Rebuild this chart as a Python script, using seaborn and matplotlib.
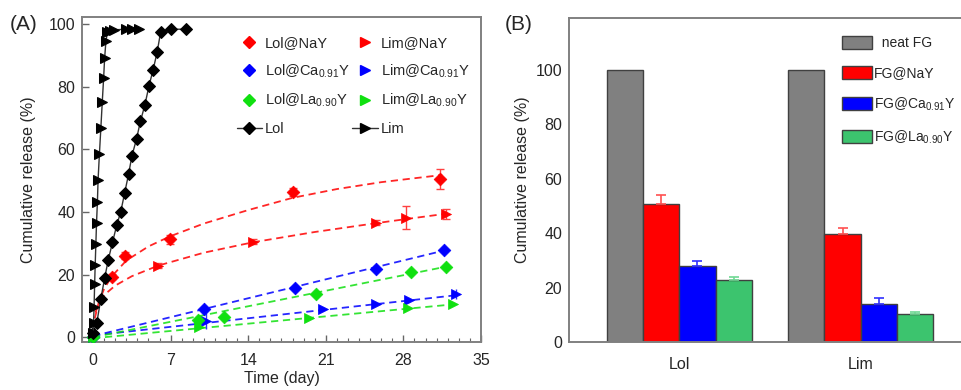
import numpy as np
import pandas as pd
import matplotlib
matplotlib.use("Agg")
import matplotlib.pyplot as plt
from matplotlib.lines import Line2D
from matplotlib.patches import Patch
from matplotlib.ticker import MultipleLocator
import seaborn as sns

sns.set_theme(style="white")
plt.rcParams['font.family'] = ['Liberation Sans', 'DejaVu Sans']
plt.rcParams['mathtext.fontset'] = 'custom'
plt.rcParams['mathtext.rm'] = 'Liberation Sans'
plt.rcParams['mathtext.it'] = 'Liberation Sans:italic'

# ---------------- Panel A data ----------------
lol_t = [0.0, 0.33, 0.7, 1.05, 1.37, 1.75, 2.13, 2.5, 2.85, 3.2, 3.5, 3.92, 4.27, 4.67, 5.05, 5.42, 5.78, 6.1, 7.05, 8.35]
lol_y = [1.5, 4.5, 12.3, 19.0, 24.7, 30.3, 35.7, 40.1, 46.1, 52.0, 57.8, 63.3, 68.9, 74.1, 80.3, 85.4, 91.0, 97.5, 98.3, 98.3]

lim_t = [0.0, 0.04, 0.09, 0.14, 0.19, 0.25, 0.31, 0.39, 0.45, 0.57, 0.70, 0.83, 0.95, 1.04, 1.16, 1.3, 1.5, 1.9, 2.95, 3.5, 4.1]
lim_y = [1.5, 4.5, 9.8, 17.0, 23.1, 29.7, 36.5, 43.1, 50.2, 58.4, 66.7, 75.2, 82.6, 89.0, 94.6, 97.3, 97.8, 98.1, 98.3, 98.3, 98.3]

lol_nay_t = [1.67, 2.9, 6.97, 18.0, 31.3]
lol_nay_y = [19.3, 26.1, 31.3, 46.4, 50.5]
lol_nay_e = [0.8, 1.2, 1.5, 1.3, 3.3]
lol_nay_fit_t = [0.15, 0.5, 1.0, 1.7, 3.0, 5.0, 7.0, 10.0, 14.0, 18.0, 22.0, 26.0, 31.5]
lol_nay_fit_y = [6.0, 11.0, 15.5, 19.5, 24.5, 29.0, 32.3, 36.3, 40.6, 44.5, 47.3, 49.5, 51.8]

lim_nay_t = [5.9, 14.4, 25.5, 28.2, 31.8]
lim_nay_y = [22.9, 30.5, 36.6, 38.2, 39.3]
lim_nay_e = [0.8, 0.8, 0.9, 3.6, 1.7]
lim_nay_fit_t = [0.2, 1.0, 2.0, 3.5, 5.9, 10.0, 14.4, 20.0, 25.5, 28.2, 32.0]
lim_nay_fit_y = [8.0, 13.5, 16.5, 19.5, 22.9, 27.0, 30.3, 33.6, 36.4, 37.7, 39.5]

lol_ca_t = [0.0, 10.0, 18.2, 25.5, 31.7]
lol_ca_y = [0.2, 8.9, 15.8, 21.7, 27.7]
lol_ca_fit_t = [0.0, 31.8]
lol_ca_fit_y = [0.4, 27.8]

lim_ca_t = [0.0, 10.2, 20.7, 25.5, 28.5, 32.7]
lim_ca_y = [0.2, 5.2, 9.1, 10.7, 11.8, 13.8]
lim_ca_e = [0.2, 2.6, 0.6, 0.5, 0.5, 1.5]
lim_ca_fit_t = [0.0, 32.7]
lim_ca_fit_y = [0.6, 13.4]

lol_la_t = [0.0, 9.5, 11.8, 20.1, 28.7, 31.8]
lol_la_y = [0.0, 5.6, 6.5, 13.8, 20.7, 22.4]
lol_la_fit_t = [0.0, 31.8]
lol_la_fit_y = [0.0, 22.5]

lim_la_t = [0.0, 9.6, 19.5, 28.4, 32.5]
lim_la_y = [0.0, 3.3, 6.0, 9.2, 10.5]
lim_la_fit_t = [0.0, 32.5]
lim_la_fit_y = [-0.3, 10.5]

# ---------------- Panel B data ----------------
drugs = ["Lol", "Lim"]
samples = ["neat FG", "FG@NaY", "FG@Ca$_{\\mathrm{0.91}}$Y", "FG@La$_{\\mathrm{0.90}}$Y"]
vals_lol = [100.0, 50.7, 27.9, 22.7]
vals_lim = [100.0, 39.6, 13.9, 10.4]
errs_lol = [0.0, 3.2, 1.8, 1.1]
errs_lim = [0.0, 2.1, 2.4, 0.5]

bar_colors = ["#808080", "#FF0000", "#0000FF", "#3CC46E"]
err_colors = ["#808080", "#FF5050", "#3030FF", "#6FD893"]

RED, BLUE, GREEN = "#FF0000", "#0000FF", "#10E010"

fig = plt.figure(figsize=(9.61, 3.90), dpi=100)
axA = fig.add_axes([82/961, 48/390, 399/961, 325/390])
axB = fig.add_axes([569/961, 48/390, 402/961, 324/390])

# ---------- Panel A ----------
def fit_line(t, y, color):
    sns.lineplot(x=t, y=y, ax=axA, color=color, lw=1.3, dashes=False,
                 linestyle=(0, (4.0, 2.6)), sort=False, estimator=None, alpha=0.85)

fit_line(lol_nay_fit_t, lol_nay_fit_y, RED)
fit_line(lim_nay_fit_t, lim_nay_fit_y, RED)
fit_line(lol_ca_fit_t, lol_ca_fit_y, BLUE)
fit_line(lim_ca_fit_t, lim_ca_fit_y, BLUE)
fit_line(lol_la_fit_t, lol_la_fit_y, GREEN)
fit_line(lim_la_fit_t, lim_la_fit_y, GREEN)

def pts(t, y, color, marker, size):
    sns.scatterplot(x=t, y=y, ax=axA, color=color, marker=marker, s=size,
                    edgecolor=color, linewidth=0.5, zorder=4)

pts(lol_nay_t, lol_nay_y, RED, 'D', 42)
pts(lim_nay_t, lim_nay_y, RED, '>', 52)
pts(lol_ca_t, lol_ca_y, BLUE, 'D', 42)
pts(lim_ca_t, lim_ca_y, BLUE, '>', 52)
pts(lol_la_t, lol_la_y, GREEN, 'D', 42)
pts(lim_la_t, lim_la_y, GREEN, '>', 52)

axA.errorbar(lol_nay_t, lol_nay_y, yerr=lol_nay_e, fmt='none', ecolor="#FF4040", elinewidth=1, capsize=3, zorder=3)
axA.errorbar(lim_nay_t, lim_nay_y, yerr=lim_nay_e, fmt='none', ecolor="#FF4040", elinewidth=1, capsize=3, zorder=3)
axA.errorbar(lim_ca_t, lim_ca_y, yerr=lim_ca_e, fmt='none', ecolor="#3030FF", elinewidth=1, capsize=0, zorder=3)

sns.lineplot(x=lol_t, y=lol_y, ax=axA, color="#333333", lw=1.0, marker='D',
             markersize=6.3, markerfacecolor='black', markeredgecolor='black',
             sort=False, estimator=None, zorder=5)
sns.lineplot(x=lim_t, y=lim_y, ax=axA, color="#333333", lw=1.0, marker='>',
             markersize=7.0, markerfacecolor='black', markeredgecolor='black',
             sort=False, estimator=None, zorder=5)

axA.set_xlim(-1, 35)
axA.set_ylim(-1.5, 102.2)
axA.set_xticks([0, 7, 14, 21, 28, 35])
axA.set_yticks([0, 20, 40, 60, 80, 100])
axA.xaxis.set_minor_locator(MultipleLocator(1))
axA.tick_params(axis='both', which='major', direction='in', length=5, width=1,
                color="#666666", labelsize=11.5, pad=5, bottom=True, left=True)
axA.tick_params(axis='x', which='major', pad=8)
axA.tick_params(axis='x', which='minor', direction='in', length=3, width=0.8,
                color="#666666", bottom=True)
axA.set_xlabel("Time (day)", fontsize=11.5, labelpad=2)
axA.set_ylabel("Cumulative release (%)", fontsize=11.5, labelpad=9)
for sp in axA.spines.values():
    sp.set_color("#808080")
    sp.set_linewidth(1.4)

def mk(color, marker, ms, label, line=False):
    return Line2D([0], [0], color="#333333" if line else color, lw=1.0 if line else 0,
                  marker=marker, markersize=ms, markerfacecolor=color,
                  markeredgecolor=color, label=label)

handlesA = [
    mk(RED, 'D', 5.8, "Lol@NaY"),
    mk(BLUE, 'D', 5.8, "Lol@Ca$_{\\mathrm{0.91}}$Y"),
    mk(GREEN, 'D', 5.8, "Lol@La$_{\\mathrm{0.90}}$Y"),
    mk('black', 'D', 5.8, "Lol", line=True),
    mk(RED, '>', 6.5, "Lim@NaY"),
    mk(BLUE, '>', 6.5, "Lim@Ca$_{\\mathrm{0.91}}$Y"),
    mk(GREEN, '>', 6.5, "Lim@La$_{\\mathrm{0.90}}$Y"),
    mk('black', '>', 6.5, "Lim", line=True),
]
axA.legend(handles=handlesA, ncol=2, loc='upper left', bbox_to_anchor=(0.373, 0.96),
           frameon=False, fontsize=10.5, handlelength=1.75, handletextpad=0.2,
           labelspacing=0.85, columnspacing=0.15, borderaxespad=0)

fig.text(10/961, 1 - 25/390, "(A)", fontsize=15, va='center', ha='left')

# ---------- Panel B ----------
df = pd.DataFrame({
    "drug": np.repeat(drugs, len(samples)),
    "sample": samples * len(drugs),
    "value": vals_lol + vals_lim,
})
sns.barplot(data=df, x="drug", y="value", hue="sample", order=drugs, hue_order=samples,
            palette=bar_colors, edgecolor="#404040", linewidth=1.0, errorbar=None,
            width=0.8, saturation=1, ax=axB)

errs = [errs_lol, errs_lim]
bar_containers = list(axB.containers)
for hi, cont in enumerate(bar_containers):
    for di, bar in enumerate(cont):
        e = errs[di][hi]
        if e > 0:
            xc = bar.get_x() + bar.get_width() / 2
            axB.errorbar([xc], [bar.get_height()], yerr=[[0], [e]], fmt='none',
                         ecolor=err_colors[hi], elinewidth=1.2, capsize=3.5, capthick=1.2, zorder=3)

axB.set_xlim(-0.607, 1.607)
axB.set_ylim(0, 119)
axB.set_yticks([0, 20, 40, 60, 80, 100])
axB.set_xlabel("")
axB.set_ylabel("Cumulative release (%)", fontsize=11.5, labelpad=4)
axB.tick_params(axis='both', which='both', length=0, labelsize=11.5)
axB.tick_params(axis='x', pad=11)
axB.tick_params(axis='y', pad=5)
for sp in axB.spines.values():
    sp.set_color("#808080")
    sp.set_linewidth(1.4)

handlesB = [Patch(facecolor=c, edgecolor="#404040", linewidth=1.0, label=l)
            for c, l in zip(bar_colors, ["  neat FG"] + samples[1:])]
axB.legend(handles=handlesB, loc='upper left', bbox_to_anchor=((836 - 569) / 402, (342 - 30) / 324),
           frameon=False, fontsize=10, handlelength=2.2, handleheight=1.1,
           handletextpad=0.15, labelspacing=1.12, borderaxespad=0)

fig.text(505/961, 1 - 25/390, "(B)", fontsize=15, va='center', ha='left')

fig.savefig("out.png", dpi=100)
